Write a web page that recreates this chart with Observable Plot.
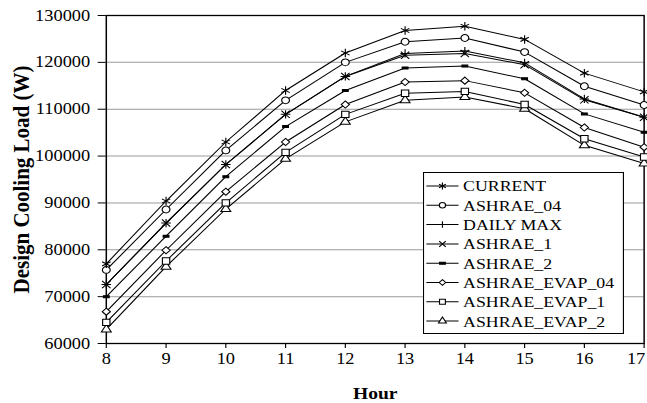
<!DOCTYPE html>
<html><head><meta charset="utf-8">
<script src="https://cdn.jsdelivr.net/npm/d3@7"></script>
<script src="https://cdn.jsdelivr.net/npm/@observablehq/plot@0.6"></script>
<style>
body{margin:0;background:#fff;overflow:hidden;}
#chart{position:relative;width:563px;height:403px;transform:scaleX(1.1492);transform-origin:0 0;font-family:"Liberation Serif","Times New Roman",serif;color:#000;}
#chart svg g[aria-label="x-axis label"] text{font-weight:bold;font-size:17px;}
#chart svg g[aria-label="y-axis label"] text{font-weight:bold;font-size:21px;}
#legend{position:absolute;left:368px;top:172px;}
</style></head><body><div id="chart"></div>
<script>
const hours = [8,9,10,11,12,13,14,15,16,17];
const current  = [77000,90400,103000,114000,122000,126800,127700,124900,117700,113700];
const ashrae04 = [75700,88600,101200,111900,120000,124400,125200,122200,114900,110900];
const dailyMax = [72600,85700,98200,108900,117000,121900,122400,119900,112200,108300];
const ashrae1  = [72600,85700,98200,108900,117000,121500,121900,119500,112000,108300];
const ashrae2  = [70000,82900,95600,106300,114000,118800,119200,116500,109000,105100];
const evap04   = [66800,79900,92400,103000,111000,115800,116100,113500,106100,101900];
const evap1    = [64500,77600,90000,100800,108900,113400,113800,111000,103700,99800];
const evap2    = [63000,76400,88700,99400,107300,111900,112600,110100,102300,98400];
const seriesNames = ["CURRENT","ASHRAE_04","DAILY MAX","ASHRAE_1","ASHRAE_2","ASHRAE_EVAP_04","ASHRAE_EVAP_1","ASHRAE_EVAP_2"];
const seriesValues = [current, ashrae04, dailyMax, ashrae1, ashrae2, evap04, evap1, evap2];
const yTicks = [60000,70000,80000,90000,100000,110000,120000,130000];
const xTicks = [8,9,10,11,12,13,14,15,16,17];
const yLabel = "Design Cooling Load (W)";
const xLabel = "Hour";

const dash = {draw(ctx){ ctx.moveTo(-2.5,-1); ctx.lineTo(2.5,-1); ctx.lineTo(2.5,1); ctx.lineTo(-2.5,1); ctx.closePath(); }};
const styles = [
  {symbol:"asterisk", r:4, fill:"none"},
  {symbol:"circle", r:3.4, fill:"white"},
  {symbol:"plus", r:2.8, fill:"none"},
  {symbol:"times", r:3.4, fill:"none"},
  {symbol:dash, r:3, fill:"black"},
  {symbol:"diamond2", r:3.2, fill:"white"},
  {symbol:"square", r:3.6, fill:"white"},
  {symbol:"triangle", r:3.2, fill:"white"}
];

const rows = seriesNames.map((name,i)=>hours.map((h,j)=>({series:name, hour:h, value:seriesValues[i][j]})));
const lastTick = xTicks[xTicks.length-1];

const marks = [
  Plot.ruleY(yTicks.slice(1,-1), {stroke:"#9a9a9a", strokeWidth:1}),
  Plot.axisY({ticks:yTicks, tickFormat:d3.format("d"), tickSize:7, tickPadding:7, fontSize:16, label:yLabel, labelAnchor:"center", labelArrow:"none", labelOffset:82}),
  Plot.axisX({ticks:xTicks, tickFormat:d=>d===lastTick?"":String(d), tickSize:5, tickPadding:4, fontSize:16, label:xLabel, labelAnchor:"center", labelArrow:"none", labelOffset:55}),
  Plot.axisX({ticks:[lastTick], tickFormat:d3.format("d"), tickSize:5, tickPadding:4, fontSize:16, label:null, dx:-7, stroke:"none"}),
  Plot.frame({stroke:"black", strokeWidth:1.3})
];
for (let i = rows.length-1; i >= 0; i--) {
  marks.push(Plot.line(rows[i], {x:"hour", y:"value", stroke:"black", strokeWidth:1}));
}
for (let i = rows.length-1; i >= 0; i--) {
  const s = styles[i];
  marks.push(Plot.dot(rows[i], {x:"hour", y:"value", symbol:()=>s.symbol, r:s.r, stroke:"black", strokeWidth:1, fill:s.fill}));
}

const chart = Plot.plot({
  width:563, height:403,
  marginLeft:92, marginRight:3, marginTop:15, marginBottom:60,
  style:{fontFamily:'"Liberation Serif","Times New Roman",serif', fontSize:"16px", color:"black", background:"white"},
  x:{domain:[8,17]},
  y:{domain:[60000,130000]},
  symbol:{type:"identity"},
  marks
});
const host = document.getElementById("chart");
host.appendChild(chart);

// legend
const legW = 174, legH = 161, rowH = 19.3;
const leg = d3.select(host).append("svg").attr("id","legend").attr("width",legW+1).attr("height",legH+1)
  .style("font-family",'"Liberation Serif","Times New Roman",serif');
leg.append("rect").attr("x",0.5).attr("y",0.5).attr("width",legW).attr("height",legH).attr("fill","white").attr("stroke","black");
const legSym = {asterisk:d3.symbolAsterisk, circle:d3.symbolCircle, plus:d3.symbolPlus, times:d3.symbolTimes, diamond2:d3.symbolDiamond2, square:d3.symbolSquare, triangle:d3.symbolTriangle};
seriesNames.forEach((name,i)=>{
  const cy = 14 + i*rowH;
  const g = leg.append("g").attr("transform",`translate(0,${cy})`);
  g.append("line").attr("x1",3).attr("x2",31).attr("y1",0).attr("y2",0).attr("stroke","black");
  const s = styles[i];
  const type = typeof s.symbol === "string" ? legSym[s.symbol] : s.symbol;
  g.append("path").attr("transform","translate(17,0)").attr("d",d3.symbol(type, Math.PI*(s.r*0.8)**2)())
    .attr("stroke","black").attr("fill",s.fill);
  g.append("text").attr("x",35).attr("y",0).attr("dy","0.35em").attr("font-size",15.5).text(name);
});
</script></body></html>
